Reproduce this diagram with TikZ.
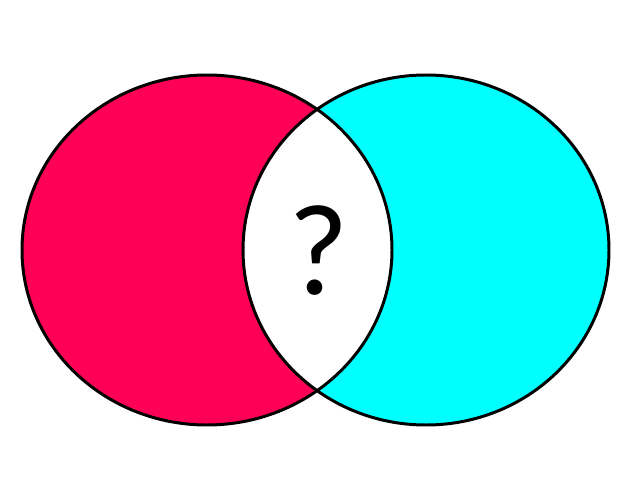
\documentclass[tikz,border=0pt]{standalone}
\usepackage{fontspec}
\setmainfont{Carlito}
\definecolor{setred}{HTML}{FF0057}
\definecolor{setcyan}{HTML}{00FFFF}
\tikzset{
  setline/.style={line width=1.7pt,black}
}
\begin{document}
\begin{tikzpicture}[x=0.02cm,y=-0.02cm]
  \useasboundingbox (0,0) rectangle (640,480);
  \coordinate (A) at (207,250);
  \coordinate (B) at (426,250);
  \fill[setred] (A) ellipse [x radius=185,y radius=175];
  \fill[setcyan] (B) ellipse [x radius=183,y radius=175];
  \begin{scope}
    \clip (A) ellipse [x radius=185,y radius=175];
    \fill[white] (B) ellipse [x radius=183,y radius=175];
  \end{scope}
  \foreach \c/\r in {A/185,B/183}{
    \draw[setline] (\c) ellipse [x radius=\r,y radius=175];
  }
  \node[font=\fontsize{74}{74}\selectfont] (q) at (319,251) {?};
\end{tikzpicture}
\end{document}
